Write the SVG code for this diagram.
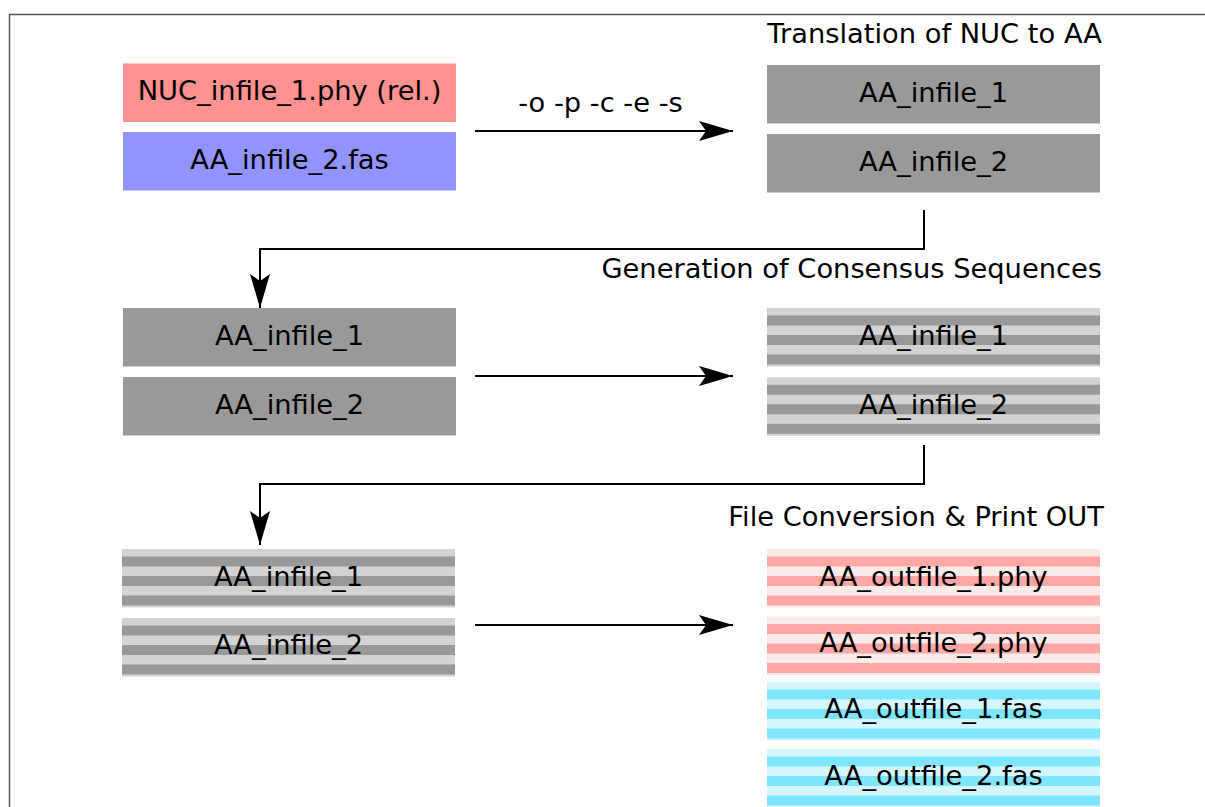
<svg xmlns="http://www.w3.org/2000/svg" xmlns:xlink="http://www.w3.org/1999/xlink" width="1205" height="807" viewBox="0 0 1205 807">
<style>
text{font-family:"DejaVu Sans","Liberation Sans",sans-serif;font-size:27.3px;fill:#000}
.c{text-anchor:middle}
.t{text-anchor:end}
.conn{fill:none;stroke:#000;stroke-width:2}
</style>
<defs>
<marker id="ah" markerUnits="userSpaceOnUse" markerWidth="40" markerHeight="24" viewBox="-36 -12 40 24" refX="0" refY="0" orient="auto">
<path d="M0,0 L-34,-10 L-27,0 L-34,10 Z" fill="#000"/>
</marker>
<g id="sGray"><rect width="333" height="58.5" fill="#d3d3d3"/><rect y="7.5" width="333" height="10" fill="#999"/><rect y="27" width="333" height="10" fill="#999"/><rect y="46.5" width="333" height="10" fill="#999"/></g>
<g id="sPink"><rect width="333" height="58.5" fill="#fbeaea"/><rect y="7.5" width="333" height="10" fill="#ffa6a6"/><rect y="27" width="333" height="10" fill="#ffa6a6"/><rect y="46.5" width="333" height="10" fill="#ffa6a6"/></g>
<g id="sCyan"><rect width="333" height="58.5" fill="#d5f6ff"/><rect y="7.5" width="333" height="10" fill="#80e5ff"/><rect y="27" width="333" height="10" fill="#80e5ff"/><rect y="46.5" width="333" height="10" fill="#80e5ff"/></g>
</defs>
<rect width="1205" height="807" fill="#fff"/>
<path d="M9.5,807 V14.5 H1205" fill="none" stroke="#555" stroke-width="1.5"/>

<g id="titles">
<text class="t" x="1102" y="43">Translation of NUC to AA</text>
<text class="t" x="1102" y="278">Generation of Consensus Sequences</text>
<text class="t" x="1104" y="526">File Conversion &amp; Print OUT</text>
</g>

<g id="nuc_infile_1"><rect x="123" y="63.5" width="333" height="58.5" fill="#ff9191"/><text class="c" x="289.5" y="100">NUC_infile_1.phy (rel.)</text></g>
<g id="aa_infile_2_in"><rect x="123" y="132" width="333" height="58.5" fill="#9393ff"/><text class="c" x="289.5" y="169">AA_infile_2.fas</text></g>

<g id="r1_aa1"><rect x="767" y="65" width="333" height="58.5" fill="#999"/><text class="c" x="933.5" y="102">AA_infile_1</text></g>
<g id="r1_aa2"><rect x="767" y="134" width="333" height="58.5" fill="#999"/><text class="c" x="933.5" y="171">AA_infile_2</text></g>

<g id="r2l_aa1"><rect x="123" y="308" width="333" height="58.5" fill="#999"/><text class="c" x="289.5" y="345">AA_infile_1</text></g>
<g id="r2l_aa2"><rect x="123" y="377" width="333" height="58.5" fill="#999"/><text class="c" x="289.5" y="414">AA_infile_2</text></g>

<g id="r2r_aa1"><use xlink:href="#sGray" x="767" y="308"/><text class="c" x="933.5" y="345">AA_infile_1</text></g>
<g id="r2r_aa2"><use xlink:href="#sGray" x="767" y="377.3"/><text class="c" x="933.5" y="414">AA_infile_2</text></g>

<g id="r3l_aa1"><use xlink:href="#sGray" x="122" y="549"/><text class="c" x="288.5" y="586">AA_infile_1</text></g>
<g id="r3l_aa2"><use xlink:href="#sGray" x="122" y="618"/><text class="c" x="288.5" y="654">AA_infile_2</text></g>

<g id="out_phy1"><use xlink:href="#sPink" x="767" y="549"/><text class="c" x="933.5" y="586">AA_outfile_1.phy</text></g>
<g id="out_phy2"><use xlink:href="#sPink" x="767" y="616.5"/><text class="c" x="933.5" y="652">AA_outfile_2.phy</text></g>
<g id="out_fas1"><use xlink:href="#sCyan" x="767" y="682"/><text class="c" x="933.5" y="718">AA_outfile_1.fas</text></g>
<g id="out_fas2"><use xlink:href="#sCyan" x="767" y="749"/><text class="c" x="933.5" y="785">AA_outfile_2.fas</text></g>

<g id="connectors">
<path class="conn" d="M475,131 H733" marker-end="url(#ah)"/>
<text class="c" x="600.5" y="112">-o -p -c -e -s</text>
<path class="conn" d="M924,210 V249 H260 V308" marker-end="url(#ah)"/>
<path class="conn" d="M475,376 H733" marker-end="url(#ah)"/>
<path class="conn" d="M924,445 V484 H260 V545" marker-end="url(#ah)"/>
<path class="conn" d="M475,625 H733" marker-end="url(#ah)"/>
</g>
</svg>
